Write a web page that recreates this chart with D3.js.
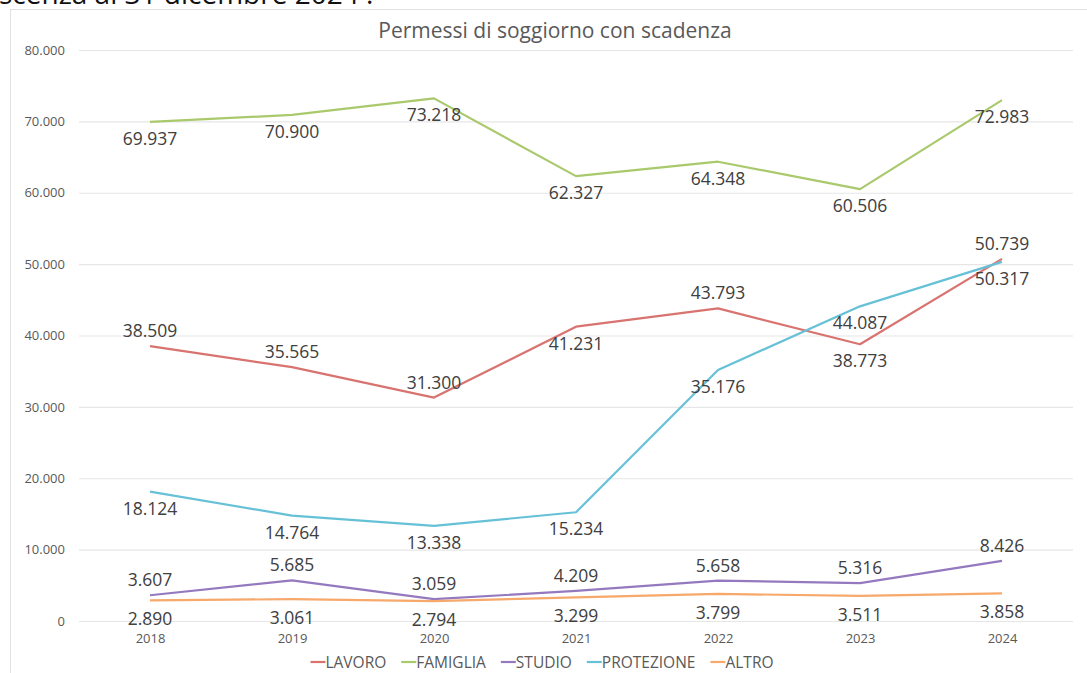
<!DOCTYPE html>
<html>
<head>
<meta charset="utf-8">
<script src="https://cdn.jsdelivr.net/npm/d3@7"></script>
<style>
  body { margin: 0; background: #fff; }
  svg { display: block; font-family: "Open Sans", sans-serif; }
</style>
</head>
<body>
<svg id="chart"></svg>
<script>
// data
const years = ["2018", "2019", "2020", "2021", "2022", "2023", "2024"];
const lavoro = [38509, 35565, 31300, 41231, 43793, 38773, 50739];
const famiglia = [69937, 70900, 73218, 62327, 64348, 60506, 72983];
const studio = [3607, 5685, 3059, 4209, 5658, 5316, 8426];
const protezione = [18124, 14764, 13338, 15234, 35176, 44087, 50317];
const altro = [2890, 3061, 2794, 3299, 3799, 3511, 3858];
const yTicks = [0, 10000, 20000, 30000, 40000, 50000, 60000, 70000, 80000];

const series = [
  {name: "LAVORO", values: lavoro, color: "#d8736f"},
  {name: "FAMIGLIA", values: famiglia, color: "#a9c96c"},
  {name: "STUDIO", values: studio, color: "#9479bf"},
  {name: "PROTEZIONE", values: protezione, color: "#66c1d7"},
  {name: "ALTRO", values: altro, color: "#f7a86b"}
];

// where each data label sits (a = above, b = below)
const labelSide = {
  LAVORO: ["a", "a", "a", "b", "a", "b", "a"],
  FAMIGLIA: ["b", "b", "b", "b", "b", "b", "b"],
  STUDIO: ["a", "a", "a", "a", "a", "a", "a"],
  PROTEZIONE: ["b", "b", "b", "b", "b", "b", "b"],
  ALTRO: ["b", "b", "b", "b", "b", "b", "b"]
};

const width = 1087;
const height = 673;

const it = d3.formatLocale({decimal: ",", thousands: ".", grouping: [3], currency: ["€", ""]});
const fmt = it.format(",d");

const x = d3.scalePoint()
    .domain(years)
    .range([79, 1073])
    .padding(0.5);

const y = d3.scaleLinear()
    .domain([0, 80000])
    .range([621, 50]);

const svg = d3.select("#chart")
    .attr("width", width)
    .attr("height", height)
    .attr("viewBox", [0, 0, width, height]);

// cut-off text from the page above
svg.append("text")
    .attr("x", -1)
    .attr("y", 4)
    .attr("font-size", 28)
    .attr("fill", "#111")
    .text("scenza al 31 dicembre 2024 :");

// chart frame
svg.append("rect")
    .attr("x", 10.5)
    .attr("y", 9.5)
    .attr("width", width)
    .attr("height", height)
    .attr("fill", "none")
    .attr("stroke", "#e2e2e2");

// title
svg.append("text")
    .attr("x", 555)
    .attr("y", 38)
    .attr("text-anchor", "middle")
    .attr("font-size", 21)
    .attr("fill", "#595959")
    .text("Permessi di soggiorno con scadenza");

// y axis with gridlines
svg.append("g")
    .attr("transform", "translate(79,0)")
    .call(d3.axisLeft(y).tickValues(yTicks).tickFormat(d => d === 0 ? "0" : fmt(d)).tickSize(0).tickPadding(14))
    .call(g => g.select(".domain").remove())
    .call(g => g.selectAll(".tick text")
        .attr("font-family", "Open Sans, sans-serif")
        .attr("font-size", 13)
        .attr("fill", "#595959"))
    .call(g => g.selectAll(".tick line").clone()
        .attr("x2", 1073 - 79)
        .attr("stroke", "#e6e6e6")
        .attr("stroke-width", 1.2));

// x axis labels
svg.append("g")
    .attr("transform", "translate(0,621)")
    .call(d3.axisBottom(x).tickSize(0).tickPadding(13))
    .call(g => g.select(".domain").remove())
    .call(g => g.selectAll(".tick text")
        .attr("font-family", "Open Sans, sans-serif")
        .attr("font-size", 13)
        .attr("fill", "#595959"));

const line = d3.line()
    .x((d, i) => x(years[i]))
    .y(d => y(d));

svg.append("g")
  .selectAll("path")
  .data(series)
  .join("path")
    .attr("fill", "none")
    .attr("stroke", d => d.color)
    .attr("stroke-width", 2.2)
    .attr("stroke-linejoin", "round")
    .attr("d", d => line(d.values));

// data labels
series.forEach(s => {
  svg.append("g")
    .selectAll("text")
    .data(s.values)
    .join("text")
      .attr("x", (d, i) => x(years[i]))
      .attr("y", (d, i) => y(d) + (labelSide[s.name][i] === "a" ? -9 : (s.name === "ALTRO" ? 25 : 23)))
      .attr("text-anchor", "middle")
      .attr("font-size", 17.5)
      .attr("fill", "#404040")
      .text(d => fmt(d));
});

// legend
const legend = svg.append("g").attr("transform", "translate(0,662)");
let lx = 0;
series.forEach(s => {
  const g = legend.append("g");
  g.append("line")
      .attr("x1", 0).attr("x2", 15)
      .attr("stroke", s.color)
      .attr("stroke-width", 2.2);
  const t = g.append("text")
      .attr("x", 15)
      .attr("y", 5.5)
      .attr("font-size", 15.5)
      .attr("fill", "#595959")
      .text(s.name);
  const w = 15 + t.node().getComputedTextLength();
  g.attr("transform", `translate(${lx},0)`);
  lx += w + 15;
});
const total = lx - 15;
legend.attr("transform", `translate(${542 - total / 2},662)`);
</script>
</body>
</html>
